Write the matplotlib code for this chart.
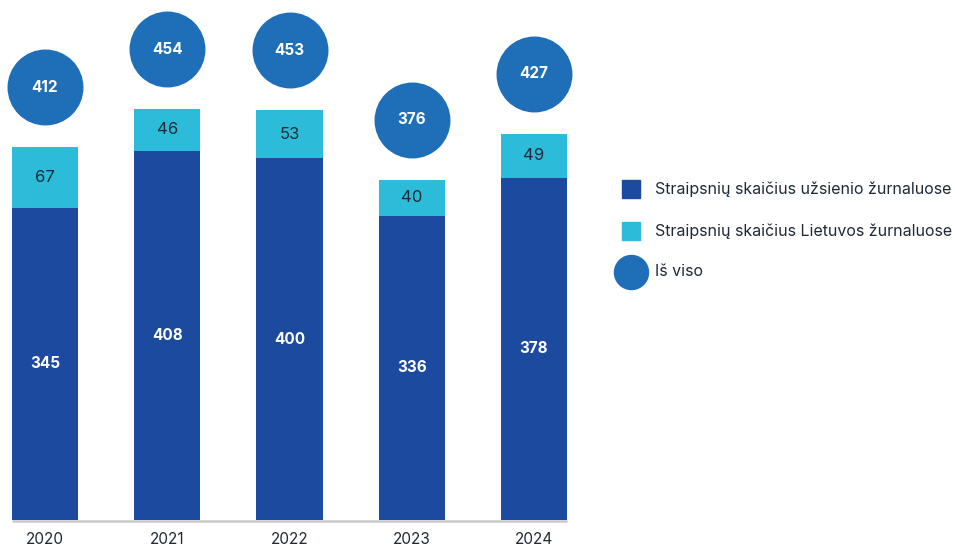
import matplotlib.pyplot as plt
import numpy as np

plt.rcParams['font.family'] = ['Inter', 'DejaVu Sans']

years = ["2020", "2021", "2022", "2023", "2024"]
foreign = [345, 408, 400, 336, 378]
local = [67, 46, 53, 40, 49]
totals = [412, 454, 453, 376, 427]

c_foreign = "#1c4a9f"
c_local = "#2cbcd9"
c_total = "#1f6eb8"
c_text = "#1f2a36"

W, H = 955, 546
fig = plt.figure(figsize=(W / 100, H / 100), dpi=100)
ax = fig.add_axes([0, 0, 1, 1])

px_x = 122.25          # pixels per category
px_y = 0.905           # pixels per unit
ax.set_xlim(-45 / px_x, (W - 45) / px_x)
ax.set_ylim(-26 / px_y, (H - 26) / px_y)
ax.axis("off")

x = np.arange(len(years))
w = 0.54
ax.bar(x, foreign, width=w, color=c_foreign, zorder=2)
ax.bar(x, local, width=w, bottom=foreign, color=c_local, zorder=2)

# baseline
ax.plot([x[0] - w / 2, x[-1] + w / 2], [-1.5, -1.5], color="#c8cacd", lw=1.8, zorder=1,
        solid_capstyle="butt")

off = 60 / px_y
ax.scatter(x, np.array(totals) + off, s=2990, color=c_total, zorder=3, linewidths=0)

for i in range(len(years)):
    ax.text(x[i], foreign[i] / 2, str(foreign[i]), ha="center", va="center",
            color="white", fontsize=11, fontweight="bold")
    ax.text(x[i], foreign[i] + local[i] / 2, str(local[i]), ha="center", va="center",
            color=c_text, fontsize=12)
    ax.text(x[i], totals[i] + off, str(totals[i]), ha="center", va="center",
            color="white", fontsize=11, fontweight="bold", zorder=4)
    ax.text(x[i], -19 / px_y, years[i], ha="center", va="center",
            color=c_text, fontsize=11)

# legend, drawn by hand
labels = ["Straipsnių skaičius užsienio žurnaluose",
          "Straipsnių skaičius Lietuvos žurnaluose",
          "Iš viso"]
leg_colors = [c_foreign, c_local, c_total]
leg_markers = ["s", "s", "o"]
leg_sizes = [13, 13, 24.5]
row_y = [189, 231, 272]
for lab, col, mk, ms, ry in zip(labels, leg_colors, leg_markers, leg_sizes, row_y):
    yy = 1 - ry / H
    ax.plot([631 / W], [yy], marker=mk, markersize=ms, color=col, ls="",
            transform=ax.transAxes, clip_on=False)
    ax.text(655 / W, yy, lab, transform=ax.transAxes, ha="left", va="center",
            color=c_text, fontsize=11.5)

fig.savefig("out.png", dpi=100)
